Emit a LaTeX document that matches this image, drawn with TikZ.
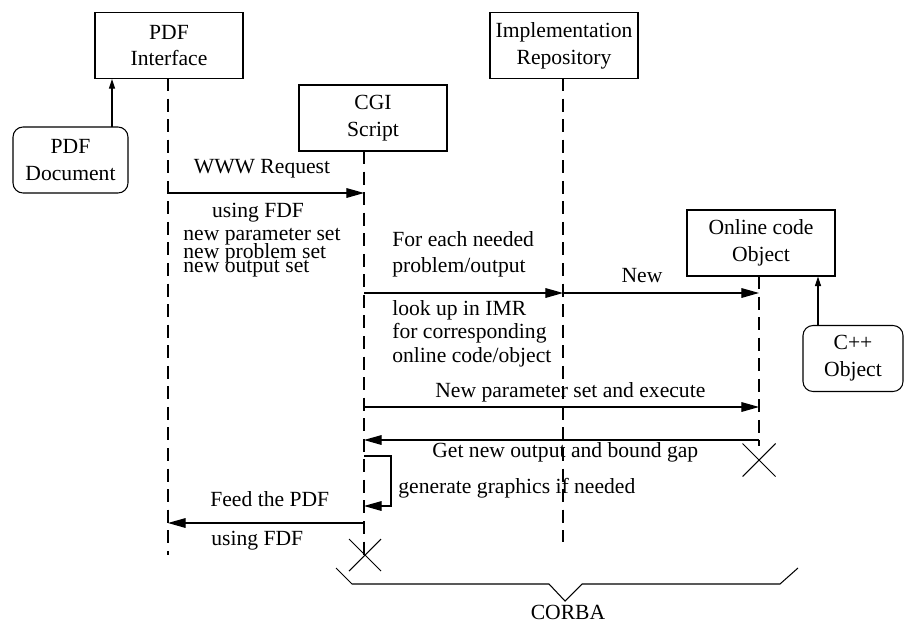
\documentclass[tikz,border=0pt]{standalone}
\usepackage{fontspec}
\setmainfont{Liberation Serif}
\usetikzlibrary{arrows.meta}
\begin{document}
\begin{tikzpicture}[x=0.02cm,y=-0.02cm,
  font=\fontsize{12.3}{15.3}\selectfont,
  ln/.style={line width=0.6pt},
  objbox/.style={draw, ln, align=center, minimum width=2.96cm, minimum height=1.32cm, inner sep=0pt},
  docbox/.style={draw, ln, align=center, rounded corners=0.2cm, minimum height=1.32cm, inner sep=0pt},
  life/.style={ln, dash pattern=on 7.4pt off 4.3pt},
  msg/.style={ln, -{Triangle[length=10pt,width=5.5pt]}},
  feed/.style={ln, -{Triangle[length=5.5pt,width=3.5pt]}},
  lbl/.style={inner sep=0pt, anchor=base west},
  clbl/.style={inner sep=0pt, anchor=base}]
\useasboundingbox (0,0) rectangle (906,622);

% objects
\node[objbox] (pdfif) at (169,45.5) {PDF\\Interface};
\node[objbox] (cgi) at (373,118) {CGI\\Script};
\node[objbox] (imr) at (564,45.5) {Implementation\\Repository};
\node[objbox] (online) at (761,243) {Online code\\Object};
\node[docbox, minimum width=2.3cm] (pdfdoc) at (70.5,160) {PDF\\Document};
\node[docbox, minimum width=2.0cm] (cppobj) at (853,358.5) {C++\\Object};

% feeding arrows into the objects
\coordinate (docTip) at (112,127);
\draw[feed] (docTip) -- (docTip |- pdfif.south);
\coordinate (cppTip) at (818,326);
\draw[feed] (cppTip) -- (cppTip |- online.south);

% lifelines
\coordinate (pdfTop) at (168,78);   \coordinate (pdfEnd) at (168,555);
\coordinate (cgiTop) at (364,151);  \coordinate (cgiEnd) at (364,555);
\coordinate (imrTop) at (563,78);   \coordinate (imrEnd) at (563,542);
\coordinate (onlTop) at (759,276);  \coordinate (onlEnd) at (759,446);
\draw[life] (pdfTop) -- (pdfEnd);
\draw[life] (cgiTop) -- (cgiEnd);
\draw[life] (imrTop) -- (imrEnd);
\draw[life] (onlTop) -- (onlEnd);

% message end points
\coordinate (m1a) at (168,193); \coordinate (m1b) at (364,193);
\coordinate (m2a) at (364,293); \coordinate (m2b) at (563,293);
\coordinate (m3b) at (759,293);
\coordinate (m4a) at (364,407); \coordinate (m4b) at (759,407);
\coordinate (m5a) at (759,440); \coordinate (m5b) at (364,440);
\coordinate (lpA) at (364,456); \coordinate (lpB) at (391,456);
\coordinate (lpC) at (391,506); \coordinate (lpD) at (364,506);
\coordinate (m6a) at (364,523); \coordinate (m6b) at (168,523);

% messages
\draw[msg] (m1a) -- (m1b);
\draw[msg] (m2a) -- (m2b);
\draw[msg] (m2b) -- (m3b);
\draw[msg] (m4a) -- (m4b);
\draw[msg] (m5a) -- (m5b);
\draw[msg] (lpA) -- (lpB) -- (lpC) -- (lpD);
\draw[msg] (m6a) -- (m6b);

% labels
\node[clbl] (t1) at (262,173) {WWW Request};
\node[clbl] (t2) at (258,217) {using FDF};
\node[lbl] (t3) at (183,240) {new parameter set};
\node[lbl] (t4) at (183,258) {new problem set};
\node[lbl] (t5) at (183,272) {new output set};
\node[lbl] (t6) at (392,246) {For each needed};
\node[lbl] (t7) at (392,272) {problem/output};
\node[clbl] (t8) at (642,282) {New};
\node[lbl] (t9) at (392,315) {look up in IMR};
\node[lbl] (t10) at (392,338) {for corresponding};
\node[lbl] (t11) at (392,362) {online code/object};
\node[lbl] (t12) at (435,397) {New parameter set and execute};
\node[lbl] (t13) at (432,457) {Get new output and bound gap};
\node[lbl] (t14) at (398,493) {generate graphics if needed};
\node[lbl] (t15) at (210,506) {Feed the PDF};
\node[lbl] (t16) at (211,545) {using FDF};

% destruction marks
\coordinate (xOnl) at (759,460);
\coordinate (xCgi) at (365,555);
\draw[ln] (xOnl) ++(-16.5,-16.5) -- ++(33,33) ++(0,-33) -- ++(-33,33);
\draw[ln] (xCgi) ++(-16,-16) -- ++(32,32) ++(0,-32) -- ++(-32,32);

% CORBA brace
\coordinate (brL) at (336,568);
\coordinate (brTip) at (565,601);
\coordinate (brR) at (798,568);
\draw[ln] (brL) -- (352,584) -- (549,584) -- (brTip) -- (582,584) -- (780,584) -- (brR);
\node[clbl] (corba) at (568,619) {CORBA};
\end{tikzpicture}
\end{document}
